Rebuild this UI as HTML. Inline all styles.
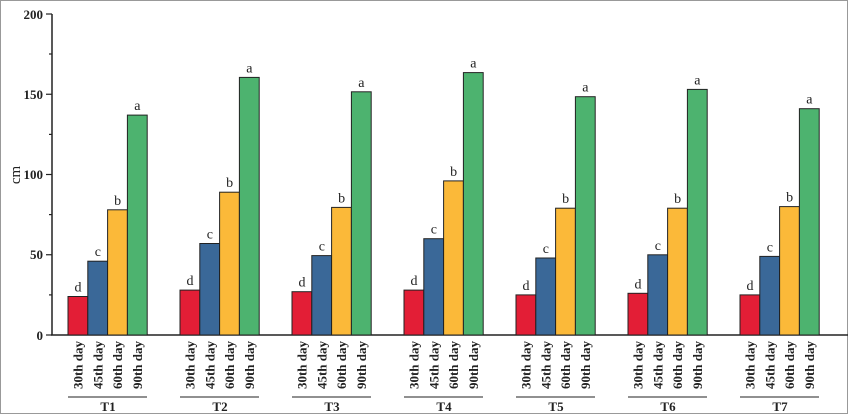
<!DOCTYPE html>
<html><head><style>
html,body{margin:0;padding:0;background:#fff}
svg{display:block}
text{font-family:"Liberation Serif",serif;fill:#222}
.b{stroke:#222;stroke-width:1}
.l{font-size:14px;text-anchor:middle}
.d{font-size:13px;font-weight:bold;text-anchor:end}
.t{font-size:13px;font-weight:bold;text-anchor:middle}
</style></head><body>
<svg width="848" height="414" viewBox="0 0 848 414" xmlns="http://www.w3.org/2000/svg">
<rect x="0.5" y="0.5" width="847" height="413" fill="#fff" stroke="#999"/>
<g stroke="#222" stroke-width="1.5" fill="none">
<line x1="52" y1="14" x2="52" y2="335.5"/>
<line x1="51" y1="335" x2="848" y2="335"/>
</g>
<g stroke="#222" stroke-width="1.2">
<line x1="46" y1="14" x2="52" y2="14"/><line x1="46" y1="94.25" x2="52" y2="94.25"/>
<line x1="46" y1="174.5" x2="52" y2="174.5"/><line x1="46" y1="254.75" x2="52" y2="254.75"/>
<line x1="46" y1="335" x2="52" y2="335"/>
<line x1="49" y1="54" x2="52" y2="54"/><line x1="49" y1="134.4" x2="52" y2="134.4"/>
<line x1="49" y1="214.6" x2="52" y2="214.6"/><line x1="49" y1="294.9" x2="52" y2="294.9"/>
</g>
<g font-size="13" font-weight="bold" text-anchor="end">
<text x="43" y="19">200</text><text x="43" y="99">150</text><text x="43" y="179">100</text>
<text x="43" y="259">50</text><text x="43" y="340">0</text>
</g>
<text transform="translate(20,175) rotate(-90)" font-size="15" text-anchor="middle">cm</text>

<g transform="translate(68,0)">
<rect class="b" x="0" y="296.5" width="19.8" height="38.5" fill="#e31e36"/>
<rect class="b" x="19.8" y="261.2" width="19.8" height="73.8" fill="#3a6898"/>
<rect class="b" x="39.6" y="209.8" width="19.8" height="125.2" fill="#fbb939"/>
<rect class="b" x="59.4" y="115.1" width="19.8" height="219.9" fill="#4db36f"/>
<text class="l" x="10" y="291.5">d</text><text class="l" x="29.8" y="256.2">c</text><text class="l" x="49.6" y="204.8">b</text><text class="l" x="69.4" y="110.1">a</text>
<text class="d" transform="translate(14.5,341) rotate(-90)">30th day</text><text class="d" transform="translate(34.3,341) rotate(-90)">45th day</text><text class="d" transform="translate(54.1,341) rotate(-90)">60th day</text><text class="d" transform="translate(73.9,341) rotate(-90)">90th day</text>
<line x1="0" x2="79" y1="397" y2="397" stroke="#222"/><text class="t" x="40" y="411">T1</text>
</g>

<g transform="translate(180,0)">
<rect class="b" x="0" y="290.1" width="19.8" height="44.9" fill="#e31e36"/>
<rect class="b" x="19.8" y="243.5" width="19.8" height="91.5" fill="#3a6898"/>
<rect class="b" x="39.6" y="192.2" width="19.8" height="142.8" fill="#fbb939"/>
<rect class="b" x="59.4" y="77.4" width="19.8" height="257.6" fill="#4db36f"/>
<text class="l" x="10" y="285.1">d</text><text class="l" x="29.8" y="238.5">c</text><text class="l" x="49.6" y="187.2">b</text><text class="l" x="69.4" y="72.4">a</text>
<text class="d" transform="translate(14.5,341) rotate(-90)">30th day</text><text class="d" transform="translate(34.3,341) rotate(-90)">45th day</text><text class="d" transform="translate(54.1,341) rotate(-90)">60th day</text><text class="d" transform="translate(73.9,341) rotate(-90)">90th day</text>
<line x1="0" x2="79" y1="397" y2="397" stroke="#222"/><text class="t" x="40" y="411">T2</text>
</g>

<g transform="translate(292,0)">
<rect class="b" x="0" y="291.7" width="19.8" height="43.3" fill="#e31e36"/>
<rect class="b" x="19.8" y="255.6" width="19.8" height="79.4" fill="#3a6898"/>
<rect class="b" x="39.6" y="207.4" width="19.8" height="127.6" fill="#fbb939"/>
<rect class="b" x="59.4" y="91.8" width="19.8" height="243.2" fill="#4db36f"/>
<text class="l" x="10" y="286.7">d</text><text class="l" x="29.8" y="250.6">c</text><text class="l" x="49.6" y="202.4">b</text><text class="l" x="69.4" y="86.8">a</text>
<text class="d" transform="translate(14.5,341) rotate(-90)">30th day</text><text class="d" transform="translate(34.3,341) rotate(-90)">45th day</text><text class="d" transform="translate(54.1,341) rotate(-90)">60th day</text><text class="d" transform="translate(73.9,341) rotate(-90)">90th day</text>
<line x1="0" x2="79" y1="397" y2="397" stroke="#222"/><text class="t" x="40" y="411">T3</text>
</g>

<g transform="translate(404,0)">
<rect class="b" x="0" y="290.1" width="19.8" height="44.9" fill="#e31e36"/>
<rect class="b" x="19.8" y="238.7" width="19.8" height="96.3" fill="#3a6898"/>
<rect class="b" x="39.6" y="180.9" width="19.8" height="154.1" fill="#fbb939"/>
<rect class="b" x="59.4" y="72.6" width="19.8" height="262.4" fill="#4db36f"/>
<text class="l" x="10" y="285.1">d</text><text class="l" x="29.8" y="233.7">c</text><text class="l" x="49.6" y="175.9">b</text><text class="l" x="69.4" y="67.6">a</text>
<text class="d" transform="translate(14.5,341) rotate(-90)">30th day</text><text class="d" transform="translate(34.3,341) rotate(-90)">45th day</text><text class="d" transform="translate(54.1,341) rotate(-90)">60th day</text><text class="d" transform="translate(73.9,341) rotate(-90)">90th day</text>
<line x1="0" x2="79" y1="397" y2="397" stroke="#222"/><text class="t" x="40" y="411">T4</text>
</g>

<g transform="translate(516,0)">
<rect class="b" x="0" y="294.9" width="19.8" height="40.1" fill="#e31e36"/>
<rect class="b" x="19.8" y="258" width="19.8" height="77" fill="#3a6898"/>
<rect class="b" x="39.6" y="208.2" width="19.8" height="126.8" fill="#fbb939"/>
<rect class="b" x="59.4" y="96.7" width="19.8" height="238.3" fill="#4db36f"/>
<text class="l" x="10" y="289.9">d</text><text class="l" x="29.8" y="253">c</text><text class="l" x="49.6" y="203.2">b</text><text class="l" x="69.4" y="91.7">a</text>
<text class="d" transform="translate(14.5,341) rotate(-90)">30th day</text><text class="d" transform="translate(34.3,341) rotate(-90)">45th day</text><text class="d" transform="translate(54.1,341) rotate(-90)">60th day</text><text class="d" transform="translate(73.9,341) rotate(-90)">90th day</text>
<line x1="0" x2="79" y1="397" y2="397" stroke="#222"/><text class="t" x="40" y="411">T5</text>
</g>

<g transform="translate(628,0)">
<rect class="b" x="0" y="293.3" width="19.8" height="41.7" fill="#e31e36"/>
<rect class="b" x="19.8" y="254.8" width="19.8" height="80.2" fill="#3a6898"/>
<rect class="b" x="39.6" y="208.2" width="19.8" height="126.8" fill="#fbb939"/>
<rect class="b" x="59.4" y="89.4" width="19.8" height="245.6" fill="#4db36f"/>
<text class="l" x="10" y="288.3">d</text><text class="l" x="29.8" y="249.8">c</text><text class="l" x="49.6" y="203.2">b</text><text class="l" x="69.4" y="84.4">a</text>
<text class="d" transform="translate(14.5,341) rotate(-90)">30th day</text><text class="d" transform="translate(34.3,341) rotate(-90)">45th day</text><text class="d" transform="translate(54.1,341) rotate(-90)">60th day</text><text class="d" transform="translate(73.9,341) rotate(-90)">90th day</text>
<line x1="0" x2="79" y1="397" y2="397" stroke="#222"/><text class="t" x="40" y="411">T6</text>
</g>

<g transform="translate(740,0)">
<rect class="b" x="0" y="294.9" width="19.8" height="40.1" fill="#e31e36"/>
<rect class="b" x="19.8" y="256.4" width="19.8" height="78.6" fill="#3a6898"/>
<rect class="b" x="39.6" y="206.6" width="19.8" height="128.4" fill="#fbb939"/>
<rect class="b" x="59.4" y="108.7" width="19.8" height="226.3" fill="#4db36f"/>
<text class="l" x="10" y="289.9">d</text><text class="l" x="29.8" y="251.4">c</text><text class="l" x="49.6" y="201.6">b</text><text class="l" x="69.4" y="103.7">a</text>
<text class="d" transform="translate(14.5,341) rotate(-90)">30th day</text><text class="d" transform="translate(34.3,341) rotate(-90)">45th day</text><text class="d" transform="translate(54.1,341) rotate(-90)">60th day</text><text class="d" transform="translate(73.9,341) rotate(-90)">90th day</text>
<line x1="0" x2="79" y1="397" y2="397" stroke="#222"/><text class="t" x="40" y="411">T7</text>
</g>
</svg>
</body></html>
